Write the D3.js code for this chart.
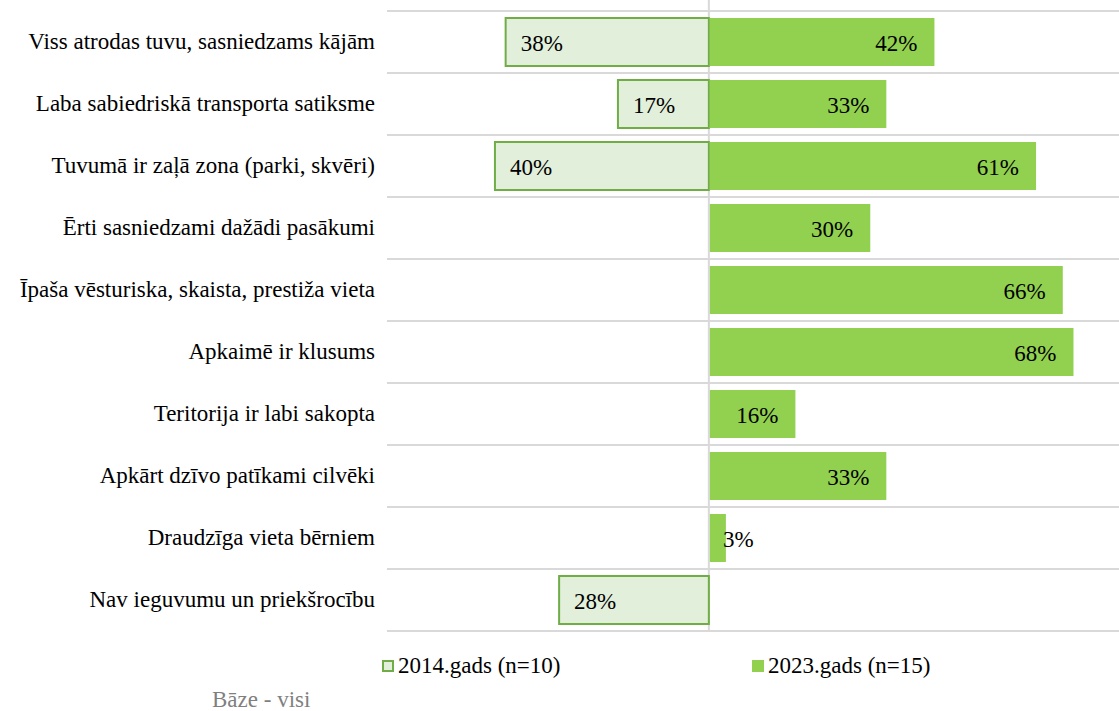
<!DOCTYPE html>
<html>
<head>
<meta charset="utf-8">
<script src="https://cdn.jsdelivr.net/npm/d3@7"></script>
<style>
  body { margin: 0; background: #fff; }
</style>
</head>
<body>
<div class="canvas"></div>
<script>
// Data
const categories = [
    'Viss atrodas tuvu, sasniedzams kājām',
    'Laba sabiedriskā transporta satiksme',
    'Tuvumā ir zaļā zona (parki, skvēri)',
    'Ērti sasniedzami dažādi pasākumi',
    'Īpaša vēsturiska, skaista, prestiža vieta',
    'Apkaimē ir klusums',
    'Teritorija ir labi sakopta',
    'Apkārt dzīvo patīkami cilvēki',
    'Draudzīga vieta bērniem',
    'Nav ieguvumu un priekšrocību'
];
const values2014 = [38, 17, 40, null, null, null, null, null, null, 28];
const values2023 = [42, 33, 61, 30, 66, 68, 16, 33, 3, null];
const seriesNames = ['2014.gads (n=10)', '2023.gads (n=15)'];
const baseNote = 'Bāze - visi';

// Graph
const dims = { width: 1119, height: 711 };
const fontSize = 23;

const svg = d3.select('.canvas')
    .append('svg')
    .attr('width', dims.width)
    .attr('height', dims.height)
    .attr('font-family', "'Liberation Serif', 'Times New Roman', serif");

const x = d3.scaleLinear()
    .domain([-60, 76.7])
    .range([388, 1119]);

const y = d3.scaleBand()
    .domain(categories)
    .range([11, 631])
    .paddingInner(0.226)
    .paddingOuter(0.113);

// Gridlines between rows
const lines = categories.map(c => y(c) - y.step() * 0.113);
lines.push(631);
svg.selectAll('.grid')
    .data(lines)
    .enter()
    .append('line')
    .attr('class', 'grid')
    .attr('x1', 387)
    .attr('x2', dims.width)
    .attr('y1', d => d)
    .attr('y2', d => d)
    .attr('stroke', '#d9d9d9')
    .attr('stroke-width', 2);

// Vertical zero line
svg.append('line')
    .attr('x1', x(0))
    .attr('x2', x(0))
    .attr('y1', 0)
    .attr('y2', 631)
    .attr('stroke', '#d9d9d9')
    .attr('stroke-width', 2);

// Category labels
svg.selectAll('.cat')
    .data(categories)
    .enter()
    .append('text')
    .attr('class', 'cat')
    .attr('x', 375)
    .attr('y', d => y(d) + y.bandwidth() / 2 + 7)
    .attr('text-anchor', 'end')
    .attr('font-size', fontSize)
    .attr('fill', '#000')
    .text(d => d);

const data2014 = categories.map((c, i) => ({ cat: c, v: values2014[i] })).filter(d => d.v !== null);
const data2023 = categories.map((c, i) => ({ cat: c, v: values2023[i] })).filter(d => d.v !== null);

// 2014 bars (left)
svg.selectAll('.b2014')
    .data(data2014)
    .enter()
    .append('rect')
    .attr('class', 'b2014')
    .attr('x', d => x(-d.v))
    .attr('y', d => y(d.cat))
    .attr('width', d => x(0) - x(-d.v))
    .attr('height', y.bandwidth())
    .attr('fill', '#e2efda')
    .attr('stroke', '#70ad47')
    .attr('stroke-width', 2);

svg.selectAll('.l2014')
    .data(data2014)
    .enter()
    .append('text')
    .attr('class', 'l2014')
    .attr('x', d => x(-d.v) + 15)
    .attr('y', d => y(d.cat) + y.bandwidth() / 2 + 9)
    .attr('font-size', fontSize)
    .text(d => d.v + '%');

// 2023 bars (right)
svg.selectAll('.b2023')
    .data(data2023)
    .enter()
    .append('rect')
    .attr('class', 'b2023')
    .attr('x', x(0) + 1)
    .attr('y', d => y(d.cat))
    .attr('width', d => x(d.v) - x(0))
    .attr('height', y.bandwidth())
    .attr('fill', '#92d050');

svg.selectAll('.l2023')
    .data(data2023)
    .enter()
    .append('text')
    .attr('class', 'l2023')
    .attr('x', d => (x(d.v) - x(0) < 50) ? x(d.v) - 2 : x(d.v) - 16)
    .attr('y', d => y(d.cat) + y.bandwidth() / 2 + 9)
    .attr('text-anchor', d => (x(d.v) - x(0) < 50) ? 'start' : 'end')
    .attr('font-size', fontSize)
    .text(d => d.v + '%');

// Legend
const legend = svg.append('g');
legend.append('rect')
    .attr('x', 383).attr('y', 661)
    .attr('width', 10).attr('height', 10)
    .attr('fill', '#e2efda')
    .attr('stroke', '#70ad47')
    .attr('stroke-width', 2);
legend.append('text')
    .attr('x', 398).attr('y', 673)
    .attr('font-size', fontSize)
    .text(seriesNames[0]);
legend.append('rect')
    .attr('x', 752).attr('y', 660)
    .attr('width', 12).attr('height', 12)
    .attr('fill', '#92d050');
legend.append('text')
    .attr('x', 768).attr('y', 673)
    .attr('font-size', fontSize)
    .text(seriesNames[1]);

// Base note
svg.append('text')
    .attr('x', 212).attr('y', 707)
    .attr('font-size', fontSize)
    .attr('fill', '#7f7f7f')
    .text(baseNote);
</script>
</body>
</html>
